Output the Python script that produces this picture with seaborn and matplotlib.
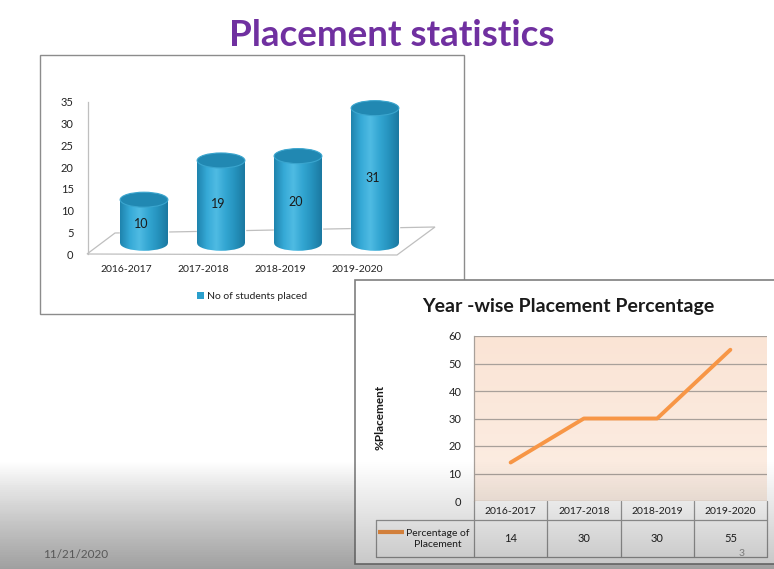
import matplotlib.pyplot as plt
import matplotlib.transforms as mtransforms
import numpy as np
import pandas as pd
import seaborn as sns
from matplotlib.colors import LinearSegmentedColormap
from matplotlib.patches import Ellipse, Polygon, Rectangle

# data
years = ["2016-2017", "2017-2018", "2018-2019", "2019-2020"]
students_placed = [10, 19, 20, 31]
placement_pct = [14, 30, 30, 55]

W, H = 774, 569
FONT = ["Lato", "DejaVu Sans"]
PX_PER_UNIT = 4.36  # bar chart y scale in pixels


def px_axes(fig, x0, y0, x1, y1, z):
    # axes placed by pixel box (top-left origin)
    return fig.add_axes([x0 / W, 1 - y1 / H, (x1 - x0) / W, (y1 - y0) / H], zorder=z)


def main() -> None:
    sns.set_theme(style="white")
    plt.rcParams["font.family"] = FONT

    df_bar = pd.DataFrame({"year": years, "placed": students_placed})
    df_pct = pd.DataFrame({"year": years, "pct": placement_pct})

    fig = plt.figure(figsize=(W / 100, H / 100), dpi=100)

    # slide background
    bg = fig.add_axes([0, 0, 1, 1], zorder=0)
    bg.set_xlim(0, W)
    bg.set_ylim(H, 0)
    bg.axis("off")
    rows = np.arange(H)
    t = np.clip((rows - 460) / (H - 460), 0, 1)
    grad = (1 - 0.19 * t)[:, None]
    bg.imshow(grad, cmap="gray", vmin=0, vmax=1, extent=[0, W, H, 0], aspect="auto")
    bg.text(392, 35, "Placement statistics", ha="center", va="center",
            fontsize=26.5, fontweight="bold", color="#7030A0")
    bg.add_patch(Rectangle((40, 55), 424, 259, facecolor="white", edgecolor="#8C8C8C", lw=1))
    # 3d floor of the bar chart
    bg.add_patch(Polygon([(87, 254), (115, 233), (435, 227), (397, 255)],
                         closed=True, facecolor="white", edgecolor="#BFBFBF", lw=0.9))
    # legend of bar chart
    bg.add_patch(Rectangle((197, 292), 7, 7, facecolor="#2A9FCC", edgecolor="none"))
    bg.text(207, 296, "No of students placed", ha="left", va="center", fontsize=7.5, color="#222222")
    bg.text(43, 555, "11/21/2020", ha="left", va="center", fontsize=8.5, color="#6E6E6E")

    # front axes of bar chart (ticks and labels)
    axf = px_axes(fig, 87.5, 101.7, 395.5, 254.3, 1)
    axf.patch.set_alpha(0)
    axf.set_xlim(-0.5, 3.5)
    axf.set_ylim(0, 35)
    axf.set_yticks(range(0, 36, 5))
    axf.set_xticks(range(len(years)))
    axf.set_xticklabels(years)
    axf.tick_params(axis="both", length=0, labelsize=7.5, colors="#222222")
    axf.tick_params(axis="y", labelsize=8, pad=10)
    axf.tick_params(axis="x", pad=8)
    for s in ["top", "right", "bottom"]:
        axf.spines[s].set_visible(False)
    axf.spines["left"].set_color("#BFBFBF")
    axf.spines["left"].set_linewidth(0.9)

    # bar axes, shifted back in depth; extended below zero for the round bottoms
    y_low = -8 / PX_PER_UNIT
    axb = px_axes(fig, 105.5, 90.7, 413.5, 251.3, 2)
    sns.barplot(data=df_bar, x="year", y="placed", ax=axb, color="#2A9FCC",
                saturation=1, width=0.62)
    axb.axis("off")
    cyl = LinearSegmentedColormap.from_list(
        "cyl", ["#1F84AE", "#35A9D6", "#4FBBE3", "#33A6D2", "#2592BD", "#1B79A1"])
    ell_h = 15 / PX_PER_UNIT
    grad_row = np.linspace(0, 1, 64)[None, :]
    for p, v in zip(list(axb.patches), students_placed):
        x0, w = p.get_x(), p.get_width()
        xc = x0 + w / 2
        p.set_facecolor("none")
        bottom = Ellipse((xc, 0), w, ell_h, facecolor="none", edgecolor="none")
        axb.add_patch(bottom)
        img_b = axb.imshow(grad_row, cmap=cyl, aspect="auto",
                           extent=[x0, x0 + w, -ell_h / 2, ell_h / 2], zorder=1)
        img_b.set_clip_path(bottom)
        img = axb.imshow(grad_row, cmap=cyl, aspect="auto",
                         extent=[x0, x0 + w, 0, v], zorder=2)
        img.set_clip_path(p)
        axb.add_patch(Ellipse((xc, v), w, ell_h, facecolor="#2188B2",
                              edgecolor="#3AA5CE", lw=0.8, zorder=3))
        axb.text(xc - 0.03, v / 2 - 0.5, str(v), ha="center", va="center",
                 fontsize=9, color="#1A1A1A", zorder=4)
    axb.set_xlim(-0.5, 3.5)
    axb.set_ylim(y_low, 35)

    # right chart panel
    panel = fig.add_axes([0, 0, 1, 1], zorder=3)
    panel.set_xlim(0, W)
    panel.set_ylim(H, 0)
    panel.axis("off")
    panel.patch.set_alpha(0)
    panel.add_patch(Rectangle((355, 280), 430, 284, facecolor="white", edgecolor="#7F7F7F", lw=1.2))
    panel.text(568, 306, "Year -wise Placement Percentage", ha="center", va="center",
               fontsize=14, fontweight="bold", color="#1A1A1A")
    panel.text(380, 417, "%Placement", ha="center", va="center", rotation=90,
               fontsize=8.5, fontweight="bold", color="#1A1A1A")

    axl = px_axes(fig, 474, 336, 767, 501, 4)
    peach = LinearSegmentedColormap.from_list("peach", ["#FAE4D5", "#FCEEE4"])
    axl.imshow(np.linspace(0, 1, 64)[:, None], cmap=peach, aspect="auto",
               extent=[-0.5, 3.5, 0, 60], zorder=0)
    sns.lineplot(data=df_pct, x="year", y="pct", ax=axl, color="#F79646",
                 linewidth=2.8, sort=False, zorder=3)
    axl.set_xlim(-0.5, 3.5)
    axl.set_ylim(0, 60)
    axl.set_yticks(range(0, 61, 10))
    axl.yaxis.grid(True, color="#A8A09A", lw=0.9)
    axl.set_axisbelow(False)
    for gl in axl.get_ygridlines():
        gl.set_zorder(1)
    axl.set_xticks([])
    axl.set_xlabel("")
    axl.set_ylabel("")
    axl.tick_params(axis="y", length=0, labelsize=8, colors="#222222", pad=9)
    for s in ["top", "right", "bottom"]:
        axl.spines[s].set_visible(False)
    axl.spines["left"].set_color("#A8A09A")
    axl.spines["left"].set_linewidth(0.9)

    # data table below the line chart
    tr = mtransforms.blended_transform_factory(axl.transData, panel.transData)
    line_c = "#9A9A9A"
    panel.plot([376, 767], [520, 520], color=line_c, lw=0.9)
    panel.plot([376, 767], [557, 557], color=line_c, lw=0.9)
    panel.plot([376, 376], [520, 557], color=line_c, lw=0.9)
    for k in range(len(years) + 1):
        panel.plot([k - 0.5, k - 0.5], [501, 557], color=line_c, lw=0.9, transform=tr)
    for k, (yr, v) in enumerate(zip(years, placement_pct)):
        panel.text(k, 511, yr, ha="center", va="center", fontsize=7.5,
                   color="#222222", transform=tr)
        panel.text(k, 539, str(v), ha="center", va="center", fontsize=8,
                   color="#222222", transform=tr)
    panel.plot([378, 404], [532, 532], color="#F79646", lw=3, solid_capstyle="butt")
    panel.text(438, 539, "Percentage of\nPlacement", ha="center", va="center",
               fontsize=7.5, color="#222222", linespacing=1.3)

    # darkening overlay at bottom of the screenshot and page number
    top = fig.add_axes([0, 0, 1, 1], zorder=10)
    top.set_xlim(0, W)
    top.set_ylim(H, 0)
    top.axis("off")
    top.patch.set_alpha(0)
    shade = np.zeros((H, 1, 4))
    shade[:, 0, 3] = 0.23 * t
    top.imshow(shade, extent=[0, W, H, 0], aspect="auto")
    top.text(742, 553, "3", ha="center", va="center", fontsize=7.5, color="#7A7A7A")

    fig.savefig("out.png", dpi=100)


if __name__ == "__main__":
    main()
